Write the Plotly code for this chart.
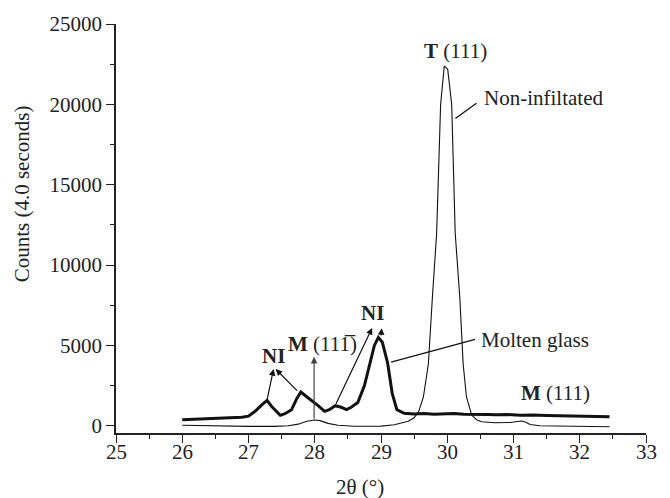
import plotly.graph_objects as go

# Non-infiltrated sample (thin line)
x_non = [26.0, 26.3, 26.6, 27.0, 27.4, 27.6, 27.75, 27.88, 28.0, 28.08, 28.2, 28.35, 28.6, 29.0,
         29.2, 29.3, 29.41, 29.5, 29.57, 29.64, 29.715, 29.775, 29.84, 29.9, 29.955, 30.007,
         30.067, 30.12, 30.19, 30.24, 30.29, 30.37, 30.45, 30.52, 30.72, 30.95, 31.05, 31.12,
         31.18, 31.25, 31.4, 31.8, 32.2, 32.45]
y_non = [30, 0, -30, -40, -40, 0, 100, 280, 360, 320, 150, 30, -30, -20,
         60, 160, 280, 500, 900, 1800, 3840, 7930, 12000, 20000, 22390, 22180,
         20000, 12000, 7930, 3840, 1790, 660, 350, 250, 190, 200, 260, 300,
         240, 80, 0, -40, -60, -60]

# Molten glass infiltrated sample (thick line)
x_mg = [26.0, 26.2, 26.4, 26.5, 26.6, 26.8, 26.9, 27.0, 27.1, 27.2, 27.28, 27.35, 27.48, 27.55,
        27.65, 27.73, 27.79, 27.85, 27.95, 28.05, 28.15, 28.22, 28.31, 28.4, 28.48, 28.55,
        28.65, 28.75, 28.84, 28.9, 28.96, 29.02, 29.1, 29.17, 29.24, 29.35, 29.5, 29.65,
        29.8, 29.95, 30.1, 30.25, 30.4, 30.6, 30.75, 30.9, 31.1, 31.3, 31.5, 31.75, 32.0,
        32.2, 32.45]
y_mg = [370, 400, 440, 470, 450, 500, 530, 600, 900, 1300, 1580, 1200, 650, 750,
        1000, 1700, 2100, 1900, 1600, 1250, 900, 1000, 1250, 1150, 1000, 1150,
        1450, 2500, 4000, 5000, 5500, 5200, 3900, 2000, 1000, 780, 740, 760,
        720, 740, 760, 720, 730, 700, 680, 700, 650, 670, 640, 630, 600,
        610, 560]

x_ticks = [25, 26, 27, 28, 29, 30, 31, 32, 33]
y_ticks = [0, 5000, 10000, 15000, 20000, 25000]

FONT = "Liberation Serif"
INK = "#222222"

fig = go.Figure()
fig.add_trace(go.Scatter(x=x_non, y=y_non, mode="lines", line=dict(color="#111111", width=1.1),
                         showlegend=False, name="Non-infiltated"))
fig.add_trace(go.Scatter(x=x_mg, y=y_mg, mode="lines", line=dict(color="#111111", width=3),
                         showlegend=False, name="Molten glass"))

axis_common = dict(showline=True, linecolor=INK, linewidth=1.5, ticks="outside", ticklen=8,
                   tickwidth=1.3, tickcolor=INK, showgrid=False, zeroline=False,
                   tickfont=dict(family=FONT, size=21, color=INK))

fig.update_xaxes(range=[25, 33], tickvals=x_ticks, showticklabels=False,
                 minor=dict(dtick=0.5, ticks="outside", ticklen=4, tickcolor=INK, tickwidth=1.2),
                 **axis_common)
fig.update_yaxes(range=[-450, 25000], tickvals=y_ticks, ticktext=[str(v) for v in y_ticks],
                 minor=dict(dtick=2500, ticks="outside", ticklen=4, tickcolor=INK, tickwidth=1.2),
                 **axis_common)

ann = []
tf = dict(family=FONT, size=21, color=INK)

# x tick labels (set a little closer to the axis than Plotly's default)
for v in x_ticks:
    ann.append(dict(x=v, y=0, xref="x", yref="paper", text=str(v), showarrow=False,
                    yanchor="top", yshift=-5, font=tf))

# text labels
ann.append(dict(x=30.12, y=23350, text="<b>T</b> (111)", showarrow=False, font=tf))
ann.append(dict(x=30.52, y=20390, text="Non-infiltated", showarrow=False, xanchor="left", font=tf))
ann.append(dict(x=30.48, y=5330, text="Molten glass", showarrow=False, xanchor="left", font=tf))
ann.append(dict(x=31.64, y=2010, text="<b>M</b> (111)", showarrow=False, font=tf))
ann.append(dict(x=28.11, y=5090, text="<b>M</b> (111\u0305)", showarrow=False, font=tf))
ann.append(dict(x=27.37, y=4350, text="<b>NI</b>", showarrow=False, font=tf))
ann.append(dict(x=28.866, y=7020, text="<b>NI</b>", showarrow=False, font=tf))

# leader lines (no heads)
for (x0, y0, x1, y1) in [(30.10, 19050, 30.44, 20070), (29.13, 3936, 30.42, 5375)]:
    ann.append(dict(x=x1, y=y1, ax=x0, ay=y0, xref="x", yref="y", axref="x", ayref="y",
                    text="", showarrow=True, arrowhead=0, arrowwidth=1.3, arrowcolor="#111111"))

# arrows
arrows = [(27.378, 3530, 27.279, 1580, "#111111"),
          (27.41, 3530, 27.755, 2090, "#111111"),
          (27.99, 4290, 27.99, 350, "#444444"),
          (28.866, 6090, 28.31, 1270, "#111111"),
          (29.01, 6070, 29.0, 5520, "#111111")]
for (x1, y1, x0, y0, c) in arrows:
    ann.append(dict(x=x1, y=y1, ax=x0, ay=y0, xref="x", yref="y", axref="x", ayref="y",
                    text="", showarrow=True, arrowhead=2, arrowsize=1.1, arrowwidth=1.2,
                    arrowcolor=c))

# axis titles (positioned in paper coordinates)
W, H = 670, 498
L, R, T, B = 116, 24, 20, 65
pw, ph = W - L - R, H - T - B
ann.append(dict(xref="paper", yref="paper", x=(22 - L) / pw, y=1 - (192 - T) / ph,
                xanchor="center", yanchor="middle", text="Counts (4.0 seconds)",
                showarrow=False, textangle=-90, font=tf))
ann.append(dict(xref="paper", yref="paper", x=(360 - L) / pw, y=1 - (488 - T) / ph,
                xanchor="center", yanchor="middle", text="2θ (°)", showarrow=False, font=tf))

fig.update_layout(width=W, height=H, margin=dict(l=L, r=R, t=T, b=B),
                  plot_bgcolor="white", paper_bgcolor="white", annotations=ann,
                  font=dict(family=FONT, color=INK))

fig.write_html("out.html")
